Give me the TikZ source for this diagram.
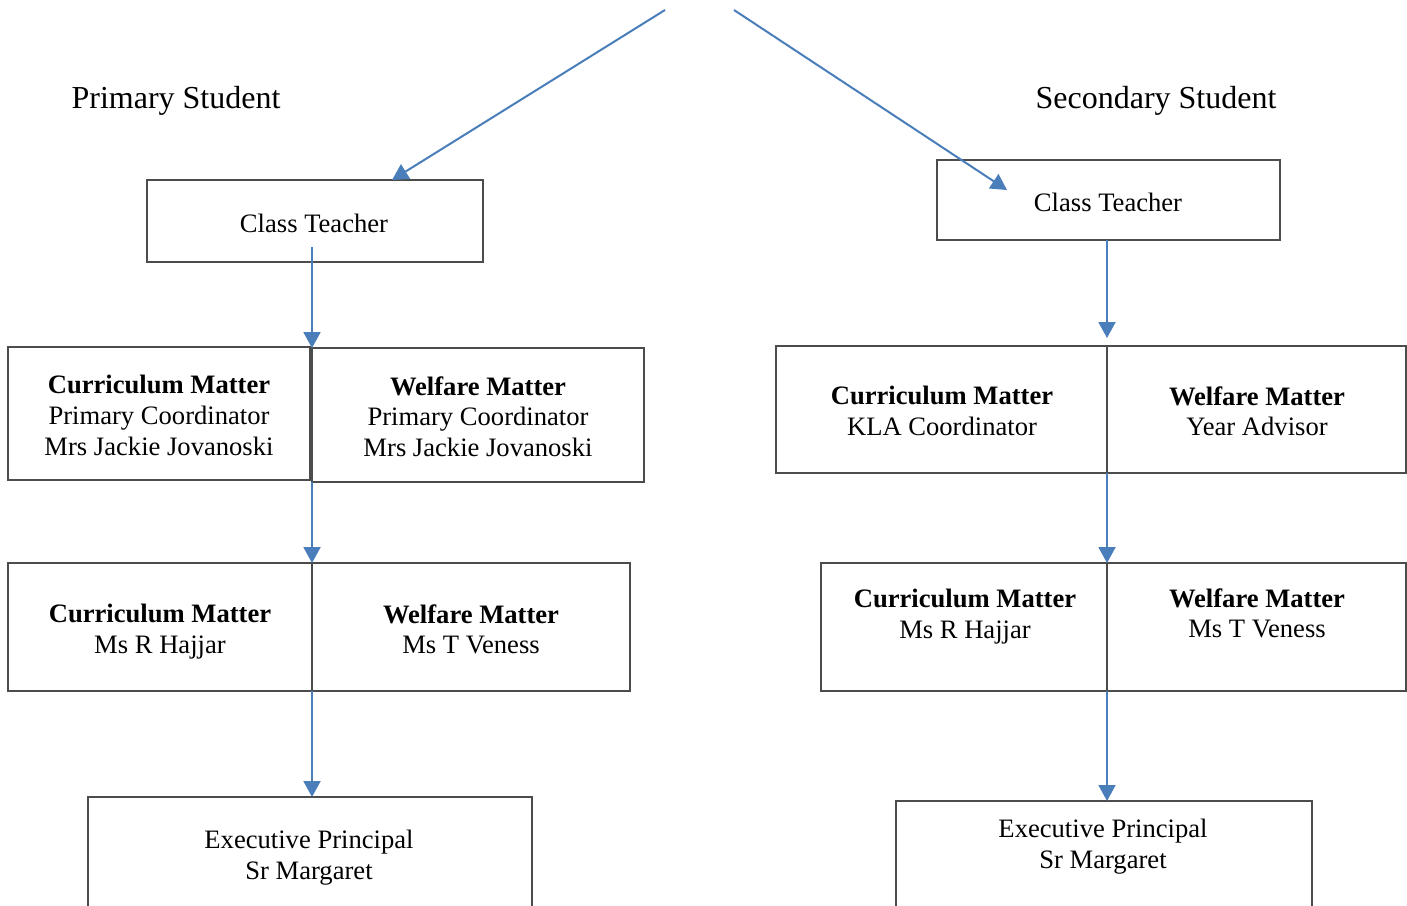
\documentclass[tikz,border=0pt]{standalone}
\usepackage{fontspec}
\setmainfont{Liberation Serif}
\usepackage{xcolor}
\usetikzlibrary{arrows.meta}
\definecolor{flowblue}{RGB}{74,126,187}

\begin{document}
\begin{tikzpicture}[x=0.5pt,y=-0.5pt,
  box/.style={draw=black!70, line width=0.6pt, inner sep=0pt, outer sep=0pt},
  txt/.style={anchor=north, align=center, inner sep=0pt, font=\fontsize{13.3}{15.3}\selectfont},
  head/.style={anchor=north, inner sep=0pt, font=\fontsize{16}{19}\selectfont},
  flow/.style={flowblue, line width=1pt, -{Triangle[width=8.5pt,length=8pt]}}]
  % Page frame
  \clip (0,0) rectangle (1407,905);

  % Headings
  \node[head] (hPri) at (176,86) {Primary Student};
  \node[head] (hSec) at (1156,86) {Secondary Student};

  % Boxes: name / centre x / centre y / width / height (in pixels)
  \foreach \name/\cx/\cy/\w/\h in {
      ctL/315/221/336/82, ctR/1108.5/200/343/80,
      cmL2/159/413.5/302/133, wfL2/478/415/332/134,
      cmR2/941.5/409.5/331/127, wfR2/1256.5/409.5/299/127,
      cmL3/160/627/304/128, wfL3/471/627/318/128,
      cmR3/964/627/286/128, wfR3/1256.5/627/299/128,
      epL/310/863.5/444/133, epR/1104/865.5/416/129} {
    \node[box, minimum width=\w*0.5pt, minimum height=\h*0.5pt] (\name) at (\cx,\cy) {};
  }

  % Primary side
  \node[txt] (tCtL) at (314,214) {Class Teacher};
  \node[txt] (tCmL2) at (159,375) {\textbf{Curriculum Matter}\\Primary Coordinator\\Mrs Jackie Jovanoski};
  \node[txt] (tWfL2) at (478,376) {\textbf{Welfare Matter}\\Primary Coordinator\\Mrs Jackie Jovanoski};
  \node[txt] (tCmL3) at (160,604) {\textbf{Curriculum Matter}\\Ms R Hajjar};
  \node[txt] (tWfL3) at (471,604) {\textbf{Welfare Matter}\\Ms T Veness};
  \node[txt] (tEpL) at (309,830) {Executive Principal\\Sr Margaret};

  % Secondary side
  \node[txt] (tCtR) at (1108,193) {Class Teacher};
  \node[txt] (tCmR2) at (942,386) {\textbf{Curriculum Matter}\\KLA Coordinator};
  \node[txt] (tWfR2) at (1257,386) {\textbf{Welfare Matter}\\Year Advisor};
  \node[txt] (tCmR3) at (965,589) {\textbf{Curriculum Matter}\\Ms R Hajjar};
  \node[txt] (tWfR3) at (1257,588) {\textbf{Welfare Matter}\\Ms T Veness};
  \node[txt] (tEpR) at (1103,819) {Executive Principal\\Sr Margaret};

  % Incoming arrows from above
  \coordinate (inL) at (665,10);
  \coordinate (inR) at (734,10);
  \draw[flow] (inL) -- ([xshift=38.5pt]ctL.north);
  \draw[flow] (inR) -- ([xshift=-50.75pt,yshift=-15pt]ctR.north);

  % Primary flow
  \draw[flow] ([yshift=7.5pt]ctL.south -| wfL2.north west) -- (wfL2.north west);
  \draw[flow] (wfL2.south west) -- (wfL3.north west);
  \draw[flow] (wfL3.south west) -- (epL.north -| wfL3.south west);

  % Secondary flow
  \draw[flow] (ctR.south -| wfR2.north west) -- ([yshift=4pt]wfR2.north west);
  \draw[flow] (wfR2.south west) -- (wfR3.north west);
  \draw[flow] (wfR3.south west) -- (epR.north -| wfR3.south west);
\end{tikzpicture}
\end{document}
